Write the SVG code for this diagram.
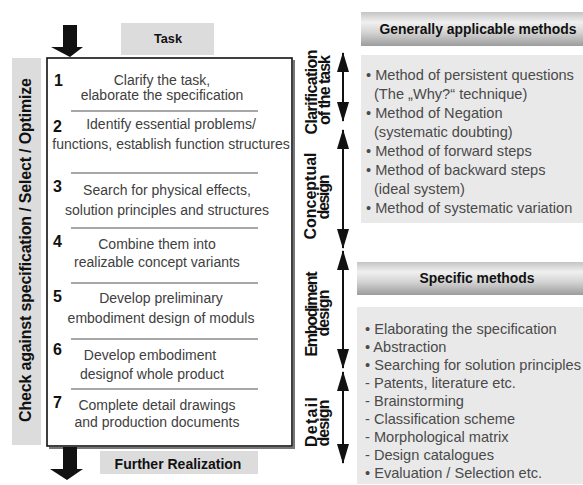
<svg xmlns="http://www.w3.org/2000/svg" width="583" height="485" viewBox="0 0 583 485">
<style>
.bg{fill:#ffffff}
.gray{fill:#dcdcdc}
.panel{fill:#e9e9e9}
.hd{font-family:"Liberation Sans",Arial,sans-serif;font-weight:bold;fill:#111}
.num{font-family:"Liberation Sans",Arial,sans-serif;font-weight:bold;font-size:16px;fill:#111}
.st{font-family:"Liberation Sans",Arial,sans-serif;font-size:14px;fill:#404040;text-anchor:middle}
.li{font-family:"Liberation Sans",Arial,sans-serif;font-size:14.6px;fill:#4a4a4a}
.vl{font-family:"Liberation Sans",Arial,sans-serif;font-weight:bold;font-size:16px;fill:#111;text-anchor:middle}
.div{stroke:#8a8a8a;stroke-width:1.5}
.va{stroke:#111;stroke-width:2;fill:none;marker-start:url(#ah);marker-end:url(#ah)}
</style>
<defs>
<linearGradient id="hg" x1="0" y1="0" x2="0" y2="1">
<stop offset="0" stop-color="#c4c4c4"/>
<stop offset="0.3" stop-color="#f0f0f0"/>
<stop offset="0.6" stop-color="#d4d4d4"/>
<stop offset="1" stop-color="#9c9c9c"/>
</linearGradient>
<marker id="ah" viewBox="0 0 20 12" refX="19" refY="6" markerWidth="20" markerHeight="12" markerUnits="userSpaceOnUse" orient="auto-start-reverse">
<path d="M0,0 L20,6 L0,12 Z" fill="#111"/>
</marker>
</defs>
<rect class="bg" x="0" y="0" width="583" height="485"/>

<g id="left-bar">
<rect class="gray" x="12" y="58" width="29" height="387"/>
<text class="vl" font-size="14.5" transform="translate(31,250) rotate(-90)" textLength="344" lengthAdjust="spacing">Check against specification / Select / Optimize</text>
</g>

<g id="task">
<rect class="gray" x="121" y="23" width="93" height="32"/>
<text class="hd" x="168" y="43" font-size="12.7" text-anchor="middle">Task</text>
</g>

<g id="further">
<rect class="gray" x="100" y="451" width="158" height="23"/>
<text class="hd" x="178" y="469" font-size="14" text-anchor="middle">Further Realization</text>
</g>

<g id="main-box">
<path d="M294,60 V448 H49" stroke="#777" stroke-width="2" fill="none"/>
<rect x="47" y="58" width="245" height="388" fill="#fff" stroke="#111" stroke-width="1.6"/>
</g>

<g id="arrows-flow">
<path d="M63,25 H77 V47 H83 L70,57 L51,47 H63 Z" fill="#111"/>
<path d="M63,447 H77 V469 H83 L67,480 L50,469 H63 Z" fill="#111"/>
</g>

<g id="dividers">
<line class="div" x1="71" y1="111" x2="258" y2="111"/>
<line class="div" x1="71" y1="173" x2="258" y2="173"/>
<line class="div" x1="71" y1="228" x2="258" y2="228"/>
<line class="div" x1="71" y1="283" x2="258" y2="283"/>
<line class="div" x1="71" y1="339" x2="258" y2="339"/>
<line class="div" x1="71" y1="389" x2="258" y2="389"/>
</g>

<g id="step1">
<text class="num" x="54" y="86">1</text>
<text class="st" x="162" y="85">Clarify the task,</text>
<text class="st" x="162" y="100">elaborate the specification</text>
</g>
<g id="step2">
<text class="num" x="53" y="132">2</text>
<text class="st" x="171" y="129">Identify essential problems/</text>
<text class="st" x="171" y="149">functions, establish function structures</text>
</g>
<g id="step3">
<text class="num" x="53" y="192">3</text>
<text class="st" x="167" y="195">Search for physical effects,</text>
<text class="st" x="167" y="215">solution principles and structures</text>
</g>
<g id="step4">
<text class="num" x="53" y="247">4</text>
<text class="st" x="157" y="249">Combine them into</text>
<text class="st" x="157" y="267">realizable concept variants</text>
</g>
<g id="step5">
<text class="num" x="53" y="302">5</text>
<text class="st" x="161" y="303">Develop preliminary</text>
<text class="st" x="161" y="323">embodiment  design of moduls</text>
</g>
<g id="step6">
<text class="num" x="53" y="355">6</text>
<text class="st" x="150" y="360">Develop embodiment</text>
<text class="st" x="152" y="379">designof whole product</text>
</g>
<g id="step7">
<text class="num" x="53" y="408">7</text>
<text class="st" x="157" y="410">Complete detail drawings</text>
<text class="st" x="157" y="427">and production documents</text>
</g>

<g id="phase-arrows">
<line class="va" x1="343" y1="53" x2="343" y2="121"/>
<line class="va" x1="343" y1="130" x2="343" y2="248"/>
<line class="va" x1="343" y1="251" x2="343" y2="368"/>
<line class="va" x1="343" y1="372" x2="343" y2="463"/>
</g>

<g id="phase-clarification">
<text class="vl" transform="translate(317,92) rotate(-90)" textLength="85" lengthAdjust="spacing">Clarification</text>
<text class="vl" transform="translate(330,90) rotate(-90)" textLength="70" lengthAdjust="spacing">of the task</text>
</g>
<g id="phase-conceptual">
<text class="vl" transform="translate(316,196) rotate(-90)" textLength="87" lengthAdjust="spacing">Conceptual</text>
<text class="vl" transform="translate(329,197) rotate(-90)" textLength="45" lengthAdjust="spacing">design</text>
</g>
<g id="phase-embodiment">
<text class="vl" transform="translate(317,314) rotate(-90)" textLength="85" lengthAdjust="spacing">Embodiment</text>
<text class="vl" transform="translate(329,313) rotate(-90)" textLength="47" lengthAdjust="spacing">design</text>
</g>
<g id="phase-detail">
<text class="vl" transform="translate(317,422) rotate(-90)" textLength="50" lengthAdjust="spacing">Detail</text>
<text class="vl" transform="translate(329,423) rotate(-90)" textLength="47" lengthAdjust="spacing">design</text>
</g>

<g id="general-methods">
<rect x="361" y="12" width="222" height="34" fill="url(#hg)"/>
<text class="hd" x="478" y="34" font-size="13.9" text-anchor="middle">Generally applicable methods</text>
<rect class="panel" x="361" y="55" width="222" height="168"/>
<text class="li" x="366" y="80">• Method of persistent questions</text>
<text class="li" x="374" y="99">(The „Why?“ technique)</text>
<text class="li" x="366" y="118">• Method of Negation</text>
<text class="li" x="374" y="137">(systematic doubting)</text>
<text class="li" x="366" y="156">• Method of forward steps</text>
<text class="li" x="366" y="175">• Method of backward steps</text>
<text class="li" x="374" y="194">(ideal system)</text>
<text class="li" x="366" y="213">• Method of systematic variation</text>
</g>

<g id="specific-methods">
<rect x="357" y="262" width="226" height="33" fill="url(#hg)"/>
<text class="hd" x="477" y="283" font-size="13.9" text-anchor="middle">Specific methods</text>
<rect class="panel" x="357" y="307" width="226" height="177"/>
<text class="li" x="365" y="334">• Elaborating the specification</text>
<text class="li" x="365" y="352">• Abstraction</text>
<text class="li" x="365" y="370">• Searching for solution principles</text>
<text class="li" x="365" y="388">- Patents, literature etc.</text>
<text class="li" x="365" y="406">- Brainstorming</text>
<text class="li" x="365" y="424">- Classification scheme</text>
<text class="li" x="365" y="442">- Morphological matrix</text>
<text class="li" x="365" y="460">- Design catalogues</text>
<text class="li" x="365" y="478">• Evaluation / Selection etc.</text>
</g>
</svg>
